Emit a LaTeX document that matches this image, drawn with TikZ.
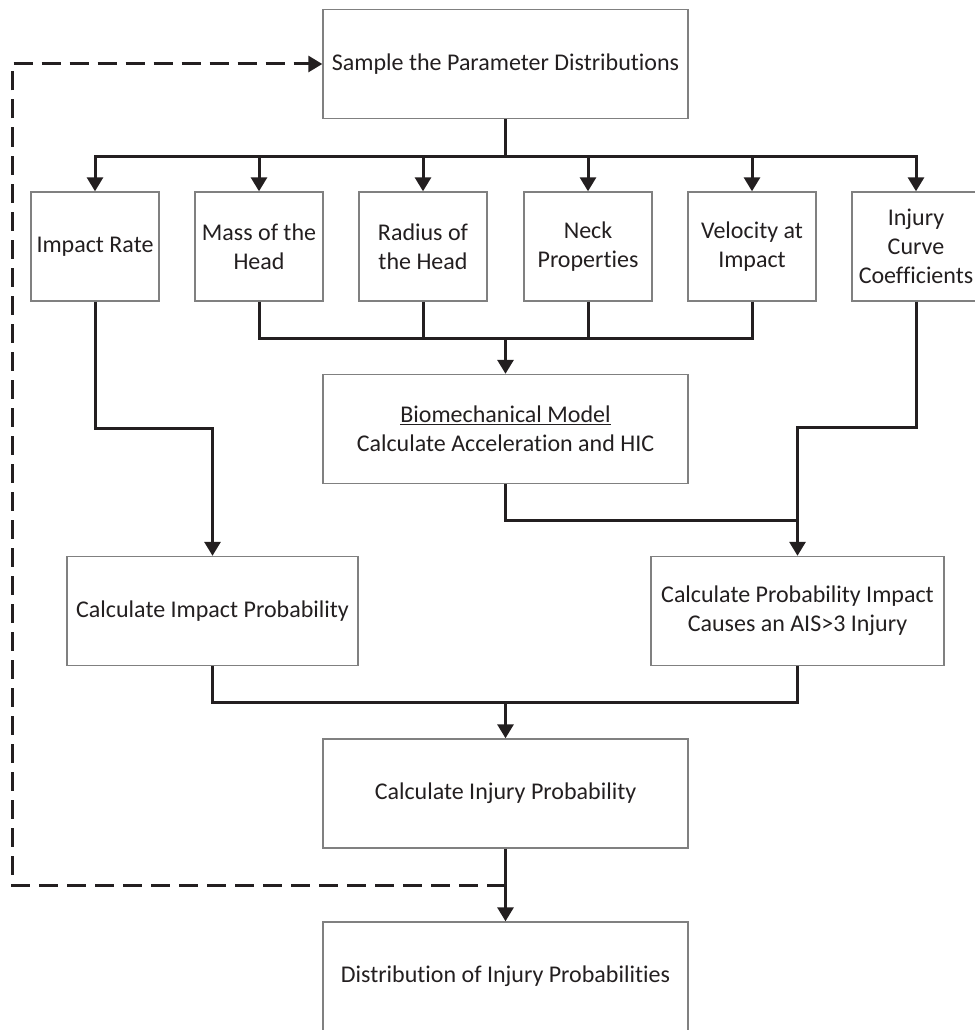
\documentclass[tikz,border=0pt]{standalone}
\usepackage{fontspec}
\setmainfont{Carlito}[Ligatures=NoCommon]
\usetikzlibrary{arrows.meta}
\definecolor{boxline}{RGB}{128,128,128}
\definecolor{ink}{RGB}{35,31,32}
\tikzset{
  blk/.style={draw=boxline,line width=1.4pt,rectangle,inner sep=0pt,align=center,
    text=ink,font=\fontsize{24}{29}\selectfont,minimum height=109pt},
  conn/.style={draw=ink,line width=3pt},
  arr/.style={conn,-{Triangle[length=14pt,width=16pt]}},
  fb/.style={arr,dash pattern=on 19pt off 9pt}
}

\begin{document}
\begin{tikzpicture}[x=1pt,y=-1pt]
\useasboundingbox (0,0) rectangle (974,1030);

%%%%%
\node[blk,minimum width=365pt] (sample) at (505.5,64) {Sample the Parameter Distributions};

\def\pos{246.5}
\node[blk,minimum width=128pt] (p1) at (95,\pos) {Impact Rate};
\node[blk,minimum width=128pt] (p2) at (259,\pos) {Mass of the\\Head};
\node[blk,minimum width=128pt] (p3) at (423,\pos) {Radius of\\the Head};
\node[blk,minimum width=128pt] (p4) at (588,\pos) {Neck\\Properties};
\node[blk,minimum width=128pt] (p5) at (752,\pos) {Velocity at\\Impact};
\node[blk,minimum width=128pt] (p6) at (916,\pos) {Injury\\Curve\\Coefficients};

\node[blk,minimum width=365pt] (biomech) at (505.5,429) {\underline{Biomechanical Model}\\Calculate Acceleration and HIC};

\def\pos{611}
\node[blk,minimum width=291pt] (iprob) at (212.5,\pos) {Calculate Impact Probability};
\node[blk,minimum width=293pt] (cprob) at (797.5,\pos) {Calculate Probability Impact\\Causes an AIS>3 Injury};

\node[blk,minimum width=365pt] (injprob) at (505.5,793.5) {Calculate Injury Probability};
\node[blk,minimum width=365pt] (dist) at (505.5,976.5) {Distribution of Injury Probabilities};

%%%%%
\coordinate (split) at (505.5,156);
\foreach \i in {1,...,6}
  \draw[arr] (sample.south) -- (split) -| (p\i.north);

\coordinate (join1) at (505.5,338);
\foreach \i in {2,...,5}
  \draw[conn] (p\i.south) |- (join1);
\draw[arr] (join1) -- (biomech.north);

\coordinate (kinkl) at (212.5,428);
\draw[arr] (p1.south) |- (kinkl) -- (iprob.north);

\coordinate (kinkr) at (797.5,427);
\coordinate (meet) at (797.5,520);
\draw[arr] (p6.south) |- (kinkr) -- (cprob.north);
\draw[conn] (biomech.south) |- (meet);

%%%%%
\coordinate (join2) at (505.5,702);
\draw[conn] (iprob.south) |- (join2);
\draw[conn] (cprob.south) |- (join2);
\draw[arr] (join2) -- (injprob.north);

\draw[arr] (injprob.south) -- (dist.north);

\coordinate (loop) at (505.5,885);
\coordinate (rail) at (12,64);
\draw[fb] (loop) -| (rail) -- (sample.west);

\end{tikzpicture}
\end{document}
